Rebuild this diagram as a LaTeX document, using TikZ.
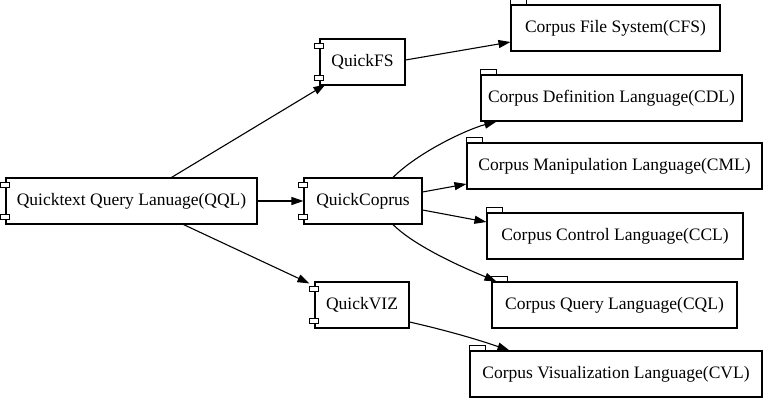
\documentclass[tikz,border=0pt]{standalone}
\usepackage{fontspec}
\setmainfont{Liberation Serif}
\newfontfamily\tms{Liberation Serif}
\usetikzlibrary{arrows.meta}
\tikzset{
  box/.style={draw, line width=1.1pt, rectangle, inner sep=0pt, minimum height=46pt, font=\tms\fontsize{17.5}{20}\selectfont},
  edge/.style={draw, line width=1.1pt, -{Triangle[length=12pt,width=8pt]}},
  deco/.style={draw, line width=1.1pt, fill=white}
}
\begin{document}
\begin{tikzpicture}[x=1pt,y=-1pt]
\useasboundingbox (0,0) rectangle (768,403);
% components
\node[box, minimum width=251pt] (QQL) at (131.5,201) {Quicktext Query Lanuage(QQL)};
\node[box, minimum width=118pt] (QC) at (363,201) {QuickCoprus};
\node[box, minimum width=85pt] (QFS) at (362.5,62) {QuickFS};
\node[box, minimum width=94pt] (QVIZ) at (362,305) {QuickVIZ};
% packages
\node[box, minimum width=209pt] (CFS) at (615.5,28) {Corpus File System(CFS)};
\node[box, minimum width=261pt] (CDL) at (611.5,98) {Corpus Definition Language(CDL)};
\node[box, minimum width=295pt] (CML) at (614.5,166) {Corpus Manipulation Language(CML)};
\node[box, minimum width=256pt] (CCL) at (615,236) {Corpus Control Language(CCL)};
\node[box, minimum width=245pt] (CQL) at (614.5,305) {Corpus Query Language(CQL)};
\node[box, minimum width=292pt] (CVL) at (616,374) {Corpus Visualization Language(CVL)};
% component tabs
\foreach \n in {QQL,QC,QFS,QVIZ}{
  \draw[deco] ([shift={(-5,5)}]\n.north west) rectangle ([shift={(4,10)}]\n.north west);
  \draw[deco] ([shift={(-5,-10)}]\n.south west) rectangle ([shift={(4,-5)}]\n.south west);
}
% folder tabs
\foreach \n in {CFS,CDL,CML,CCL,CQL,CVL}{
  \draw[deco] ([shift={(0,-5)}]\n.north west) rectangle ([shift={(16,0)}]\n.north west);
}
% edges
\draw[edge] ([xshift=40pt]QQL.north) -- ([shift={(6,-1)}]QFS.south west);
\draw[edge] (QQL.east) -- (QC.west);
\draw[edge] ([xshift=52pt]QQL.south) -- ([shift={(-5,2)}]QVIZ.north west);
\draw[edge] ([shift={(0,-2)}]QFS.east) -- ([shift={(0,14)}]CFS.west);
\draw[edge] ([xshift=30pt]QC.north) .. controls ([shift={(55,-25)}]QC.north) and ([shift={(-14,8)}]CDL.south west) .. ([shift={(16,0)}]CDL.south west);
\draw[edge] ([shift={(0,-9)}]QC.east) -- ([shift={(0,18)}]CML.west);
\draw[edge] ([shift={(0,9)}]QC.east) -- ([shift={(0,-14)}]CCL.west);
\draw[edge] ([xshift=30pt]QC.south) .. controls ([shift={(55,25)}]QC.south) and ([shift={(-14,-8)}]CQL.north west) .. ([shift={(5,0)}]CQL.north west);
\draw[edge] ([shift={(0,17)}]QVIZ.east) .. controls ([shift={(35,25)}]QVIZ.east) and ([shift={(5,-12)}]CVL.north west) .. ([shift={(40,0)}]CVL.north west);
\end{tikzpicture}
\end{document}
